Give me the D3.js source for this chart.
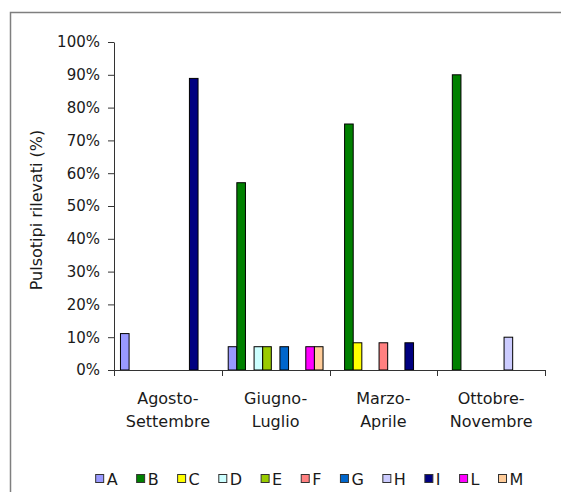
<!DOCTYPE html>
<html><head><meta charset="utf-8">
<script src="https://cdn.jsdelivr.net/npm/d3@7"></script>
<style>
html,body{margin:0;padding:0;background:#fff;}
svg{display:block;font-family:"DejaVu Sans",sans-serif;}
</style></head>
<body><svg id="c" width="561" height="492"></svg>
<script>
const categories = ["Agosto-Settembre","Giugno-Luglio","Marzo-Aprile","Ottobre-Novembre"];
const seriesNames = ["A","B","C","D","E","F","G","H","I","L","M"];
const seriesColors = ["#9999FF","#008000","#FFFF00","#CCFFFF","#99CC00","#FF8080","#0066CC","#CCCCFF","#000080","#FF00FF","#FFCC99"];
// values per series, one per category (fraction)
const valA = [0.111, 0.071, 0,     0];
const valB = [0,     0.571, 0.75,  0.90];
const valC = [0,     0,     0.083, 0];
const valD = [0,     0.071, 0,     0];
const valE = [0,     0.071, 0,     0];
const valF = [0,     0,     0.083, 0];
const valG = [0,     0.071, 0,     0];
const valH = [0,     0,     0,     0.10];
const valI = [0.889, 0,     0.083, 0];
const valL = [0,     0.071, 0,     0];
const valM = [0,     0.071, 0,     0];
const yTicks = [0,0.1,0.2,0.3,0.4,0.5,0.6,0.7,0.8,0.9,1.0];
const yTitle = "Pulsotipi rilevati (%)";

const seriesValues = [valA,valB,valC,valD,valE,valF,valG,valH,valI,valL,valM];

const svg = d3.select("#c");
const pLeft = 114, pRight = 545, pTop = 42, pBottom = 370;
const txt = "#1a1a1a";

// outer border
svg.append("rect").attr("x",10.5).attr("y",12.5).attr("width",700).attr("height",700)
  .attr("fill","none").attr("stroke","#7f7f7f").attr("stroke-width",1.5);

const x = d3.scaleBand().domain(categories).range([pLeft,pRight]).padding(0);
const xs = d3.scaleBand().domain(seriesNames).range([0,x.bandwidth()]).paddingInner(0).paddingOuter(0.75);
const y = d3.scaleLinear().domain([0,1]).range([pBottom,pTop]);

// bars
const data = [];
seriesNames.forEach((s,i)=>categories.forEach((c,j)=>{
  if (seriesValues[i][j] > 0) data.push({s, c, v: seriesValues[i][j], color: seriesColors[i]});
}));
svg.append("g").selectAll("rect").data(data).join("rect")
  .attr("x", d=>x(d.c)+xs(d.s))
  .attr("y", d=>y(d.v))
  .attr("width", xs.bandwidth())
  .attr("height", d=>y(0)-y(d.v))
  .attr("fill", d=>d.color)
  .attr("stroke","#000").attr("stroke-width",1);

// y axis
const yAxis = d3.axisLeft(y).tickValues(yTicks).tickFormat(d3.format(".0%")).tickSize(6).tickSizeOuter(0).tickPadding(8);
const gy = svg.append("g").attr("transform",`translate(${pLeft},0)`).call(yAxis);
gy.select(".domain").attr("stroke","#333");
gy.selectAll(".tick line").attr("stroke","#333");
gy.selectAll(".tick text").attr("font-size",15).attr("font-family","DejaVu Sans").attr("fill",txt);

// x axis
const gx = svg.append("g");
gx.append("line").attr("x1",pLeft).attr("x2",pRight).attr("y1",pBottom+0.5).attr("y2",pBottom+0.5).attr("stroke","#333");
const bounds = categories.map(c=>x(c)).concat([pRight]);
gx.selectAll("line.t").data(bounds).join("line").attr("class","t")
  .attr("x1",d=>Math.round(d)+0.5).attr("x2",d=>Math.round(d)+0.5)
  .attr("y1",pBottom).attr("y2",pBottom+6).attr("stroke","#333");
const lab = gx.selectAll("text").data(categories).join("text")
  .attr("text-anchor","middle").attr("font-size",16).attr("fill",txt)
  .attr("transform",d=>`translate(${x(d)+x.bandwidth()/2},0)`);
lab.each(function(d){
  const parts = d.split("-");
  const t = d3.select(this);
  t.append("tspan").attr("x",0).attr("y",404).text(parts[0]+"-");
  t.append("tspan").attr("x",0).attr("y",427).text(parts[1]);
});

// y title
svg.append("text").attr("transform","translate(42,210) rotate(-90)")
  .attr("text-anchor","middle").attr("font-size",16).attr("fill",txt).text(yTitle);

// legend
const lg = svg.append("g");
const items = lg.selectAll("g").data(seriesNames).join("g");
items.append("rect").attr("width",8).attr("height",8).attr("y",474)
  .attr("fill",(d,i)=>seriesColors[i]).attr("stroke","#333").attr("stroke-width",1);
items.append("text").attr("x",11).attr("y",484).attr("font-size",16).attr("fill",txt).text(d=>d);
let cx = 0; const pad = 19;
const widths = [];
items.each(function(){ widths.push(8+3+d3.select(this).select("text").node().getComputedTextLength()); });
const total = d3.sum(widths) + pad*(widths.length-1);
const startX = 309 - total/2;
items.attr("transform",(d,i)=>{ const t = `translate(${startX+cx+0.5},0.5)`; cx += widths[i]+pad; return t; });
</script></body></html>
